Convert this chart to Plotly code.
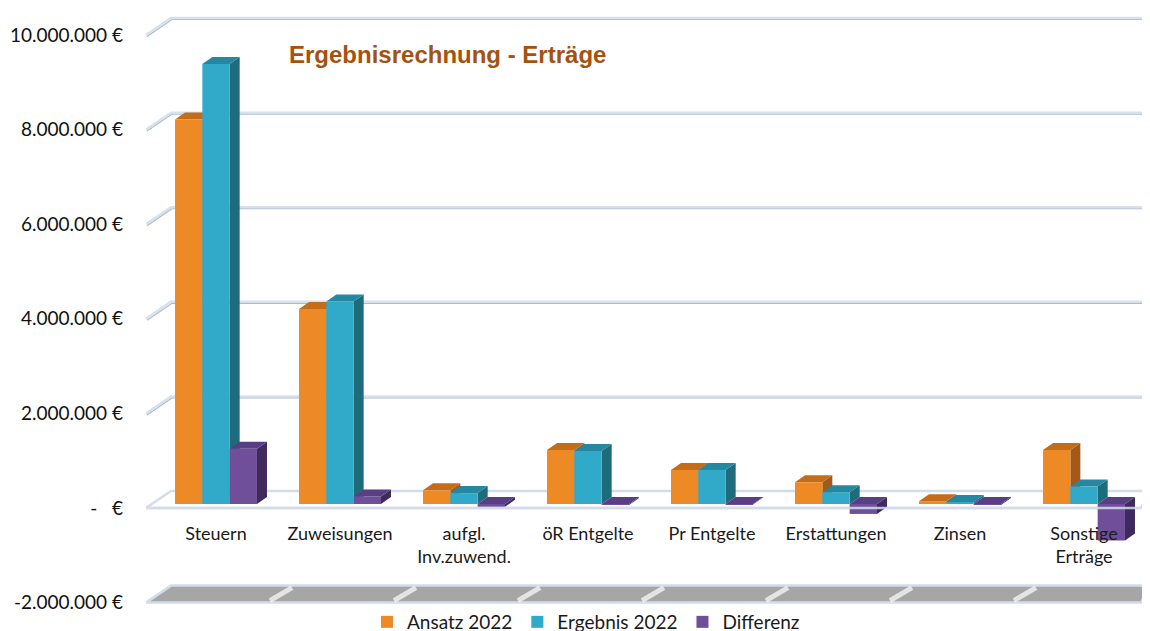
import plotly.graph_objects as go

# ---------------- data ----------------
categories = ["Steuern", "Zuweisungen", "aufgl.<br>Inv.zuwend.", "öR Entgelte",
              "Pr Entgelte", "Erstattungen", "Zinsen", "Sonstige<br>Erträge"]
ansatz_2022 = [8130000, 4120000, 290000, 1140000, 720000, 460000, 60000, 1140000]
ergebnis_2022 = [9300000, 4280000, 230000, 1120000, 720000, 250000, 40000, 370000]
differenz = [1170000, 160000, -60000, -20000, -10000, -210000, -20000, -770000]
series_names = ["Ansatz 2022", "Ergebnis 2022", "Differenz"]
y_tickvals = [-2000000, 0, 2000000, 4000000, 6000000, 8000000, 10000000]
y_ticktext = ["-2.000.000 €", "-\u00a0\u00a0\u00a0€", "2.000.000 €", "4.000.000 €",
              "6.000.000 €", "8.000.000 €", "10.000.000 €"]

# ---------------- geometry (page pixels, body margin compensated) ----------------
FIG_W, FIG_H = 1150, 631
S = 8                      # browser body margin
PLOT_L, PLOT_R = 146 - S, 1150 - S
PLOT_T, PLOT_B = 12 - S, 606 - S
W = PLOT_R - PLOT_L
H = PLOT_B - PLOT_T
PXM = 47.3 / 1e6           # pixels per value unit
ZERO_PX = 504 - S          # zero of the bar plane
CAT0_PX = 216 - S          # centre of first category in bar plane
CAT_PX = 124.0
x_range = [(PLOT_L - CAT0_PX) / CAT_PX, (PLOT_R - CAT0_PX) / CAT_PX]
y_range = [(ZERO_PX - PLOT_B) / PXM, (ZERO_PX - PLOT_T) / PXM]
FRONT_DX, FRONT_DY = 0, -4     # front plane vs. bar plane (px, up positive)
BACK_DX, BACK_DY = 25, 13      # back wall vs. bar plane
FRONT_R = W - 9                # right end of floor front edge
LABEL_SHIFT = 4 / PXM
XLAB_AXIS_PX = 521 - S

front_cols = ["#EE8A26", "#31A9C9", "#6F4F9A"]
top_cols = ["#C56C19", "#2688A0", "#5A3E84"]
side_cols = ["#A4581A", "#1E6B7C", "#3F2A5E"]
grid_light = "#D7E1EE"
grid_dark = "#AEBACB"
FONT = "Lato"

fig = go.Figure()
values = [ansatz_2022, ergebnis_2022, differenz]
for name, vals, col in zip(series_names, values, front_cols):
    fig.add_trace(go.Bar(name=name, x=list(range(len(categories))), y=vals,
                         marker=dict(color=col, line=dict(width=0)),
                         hoverinfo="skip"))


def pix_path(yv, path, **kw):
    d = dict(type="path", xref="x", yref="y", xsizemode="pixel", ysizemode="pixel",
             xanchor=x_range[0], yanchor=yv, layer="below", path=path)
    d.update(kw)
    return d


shapes = []
# back wall gridlines with left diagonals (darker lower edge + light line)
for v in y_tickvals:
    if v <= 0:
        continue
    shapes.append(pix_path(v, f"M{FRONT_DX+1},{FRONT_DY-1.5} L{BACK_DX+1},{BACK_DY-1.5} L{W},{BACK_DY-1.5}",
                           line=dict(color=grid_dark, width=1.2)))
    shapes.append(pix_path(v, f"M{FRONT_DX},{FRONT_DY} L{BACK_DX},{BACK_DY} L{W},{BACK_DY}",
                           line=dict(color=grid_light, width=2.4)))
floor_path = (f"M{FRONT_DX},{FRONT_DY} L{FRONT_R},{FRONT_DY} "
              f"L{W},{BACK_DY} L{BACK_DX},{BACK_DY} Z")
# zero plane outline
shapes.append(pix_path(0, floor_path, line=dict(color="#D3DCE9", width=2.5)))
# grey floor at minimum
shapes.append(pix_path(y_tickvals[0], floor_path, fillcolor="#A6A6A6",
                       line=dict(color="#D3DCE9", width=2.5)))
for k in range(1, len(categories)):
    xs = CAT0_PX - PLOT_L + CAT_PX * (k - 0.5)
    shapes.append(pix_path(y_tickvals[0], f"M{xs-8},{FRONT_DY+2} L{xs+14},{BACK_DY-2}",
                           line=dict(color="rgba(255,255,255,0.7)", width=5)))

# 3D faces of bars
g = 0.339
bw = (1 - g) / 3
ddx = 10 / CAT_PX
ddy = 7 / PXM
for i in range(len(categories)):
    for k, vals in enumerate(values):
        v = vals[i]
        left = i - (1 - g) / 2 + k * bw
        right = left + bw
        t = max(v, 0)
        b = min(v, 0)
        shapes.append(dict(type="path", xref="x", yref="y", layer="below",
                           path=f"M{right},{b} L{right},{t} L{right+ddx},{t+ddy} L{right+ddx},{b+ddy} Z",
                           fillcolor=side_cols[k], line=dict(width=0)))
        shapes.append(dict(type="path", xref="x", yref="y", layer="below",
                           path=f"M{left},{t} L{left+ddx},{t+ddy} L{right+ddx},{t+ddy} L{right},{t} Z",
                           fillcolor=top_cols[k], line=dict(width=0)))

# front edge of the zero plane passes in front of negative bars
shapes.append(pix_path(0, f"M{FRONT_DX},{FRONT_DY} L{FRONT_R},{FRONT_DY}", layer="above",
                       line=dict(color="rgba(211,220,233,0.85)", width=2.5)))

fig.update_layout(
    width=FIG_W, height=FIG_H,
    margin=dict(l=PLOT_L, r=FIG_W - PLOT_R, t=PLOT_T, b=FIG_H - PLOT_B, autoexpand=False),
    paper_bgcolor="white", plot_bgcolor="rgba(0,0,0,0)",
    barmode="group", bargap=g, bargroupgap=0,
    font=dict(family=FONT, size=18, color="#1a1a1a"),
    title=dict(text="<b>Ergebnisrechnung - Erträge</b>", x=(289 - S) / FIG_W, xanchor="left",
               xref="container", y=1 - (55 - S) / FIG_H, yref="container", yanchor="middle",
               pad=dict(l=0, r=0, t=0, b=0),
               font=dict(family="Liberation Sans", size=24, color="#A5520E")),
    xaxis=dict(range=x_range, tickvals=list(range(len(categories))), ticktext=categories,
               showgrid=False, zeroline=False, showline=False, ticks="",
               anchor="free", position=(PLOT_B - XLAB_AXIS_PX) / H,
               tickfont=dict(family=FONT, size=18, color="#1a1a1a")),
    yaxis=dict(range=y_range, tickvals=[v - LABEL_SHIFT for v in y_tickvals],
               ticktext=y_ticktext, showgrid=False, zeroline=False, showline=False,
               ticks="", ticklabelstandoff=22,
               tickfont=dict(family=FONT, size=19, color="#111")),
    legend=dict(orientation="h", xref="container", yref="container",
                x=(586 - S) / FIG_W, xanchor="center",
                y=1 - (622 - S) / FIG_H, yanchor="middle",
                font=dict(family=FONT, size=19, color="#1a1a1a"),
                bgcolor="rgba(0,0,0,0)"),
    shapes=shapes,
    showlegend=True,
)

fig.write_html("out.html")
